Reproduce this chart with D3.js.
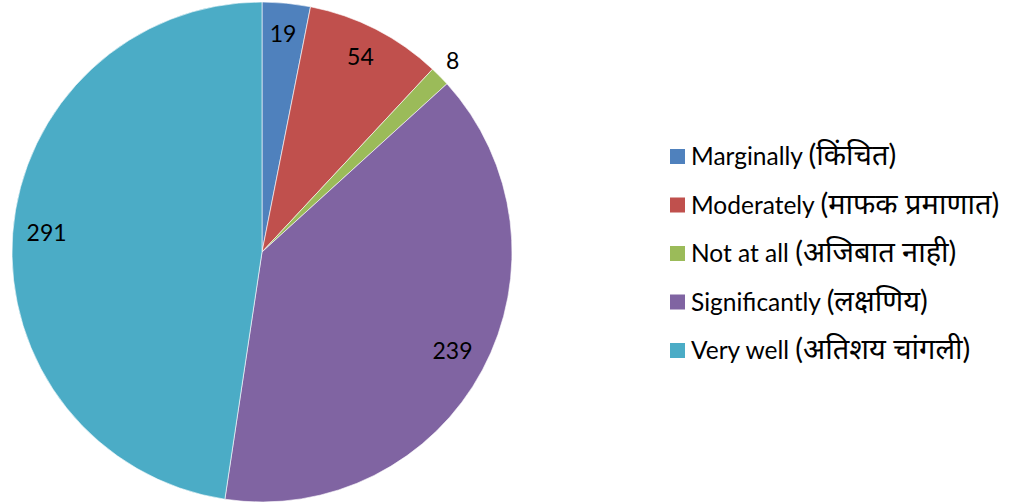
<!DOCTYPE html>
<html><head><meta charset="utf-8">
<script src="https://cdn.jsdelivr.net/npm/d3@7"></script>
<style>body{margin:0;background:#fff}svg{display:block}text{font-family:Lato,"Noto Sans","Noto Sans Devanagari",sans-serif}</style>
</head><body><svg id="c" width="1016" height="504"></svg>
<script>
const categories = ["Marginally (किंचित)", "Moderately (माफक प्रमाणात)", "Not at all (अजिबात नाही)", "Significantly (लक्षणिय)", "Very well (अतिशय चांगली)"];
const values = [19, 54, 8, 239, 291];
const colors = ["#4F81BD", "#C0504D", "#9BBB59", "#8064A2", "#4BACC6"];

const svg = d3.select("#c");
const cx = 262, cy = 252, R = 250;
const pie = d3.pie().sort(null).value(d => d)(values);
const arc = d3.arc().innerRadius(0).outerRadius(R);
const g = svg.append("g").attr("transform", `translate(${cx},${cy})`);
g.selectAll("path").data(pie).join("path")
  .attr("d", arc).attr("fill", (d, i) => colors[i])
  .attr("stroke", "#fff").attr("stroke-width", 0.6);

const inArc = d3.arc().innerRadius(216).outerRadius(216);
const outArc = d3.arc().innerRadius(268).outerRadius(268);
g.selectAll("text.lbl").data(pie).join("text").attr("class", "lbl")
  .attr("transform", d => {
    const frac = (d.endAngle - d.startAngle) / (2 * Math.PI);
    const p = (frac < 0.02 ? outArc : inArc).centroid(d);
    return `translate(${p[0]},${p[1]})`;
  })
  .attr("text-anchor", "middle").attr("dy", "0.22em")
  .attr("font-size", 23).attr("fill", "#000").text(d => d.data);

const lg = svg.append("g");
const y = d3.scalePoint().domain(categories).range([157, 351]);
categories.forEach((c, i) => {
  const k = c.indexOf("(");
  lg.append("rect").attr("x", 670).attr("y", y(c) - 8).attr("width", 15).attr("height", 15).attr("fill", colors[i]);
  const t = lg.append("text").attr("x", 691).attr("y", y(c) + 8).attr("fill", "#000");
  t.append("tspan").attr("font-size", 24.5).text(c.slice(0, k));
  t.append("tspan").attr("font-size", 29).text(c.slice(k));
});
</script></body></html>
